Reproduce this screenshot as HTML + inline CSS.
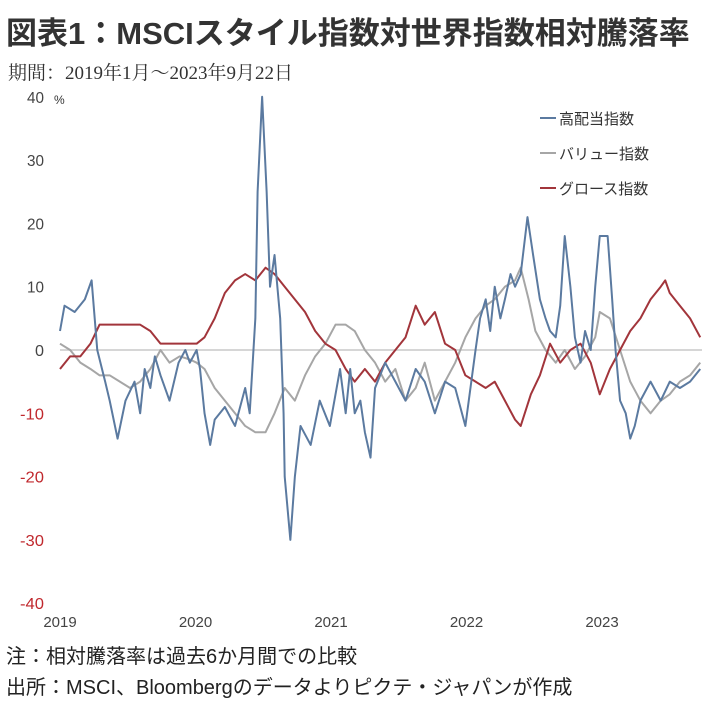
<!DOCTYPE html>
<html><head><meta charset="utf-8">
<style>
body{margin:0;background:#fff;width:711px;height:704px;overflow:hidden;font-family:"Liberation Sans","Noto Sans CJK JP",sans-serif}
.t{position:absolute;white-space:nowrap}
</style></head><body>
<div class="t" style="left:6px;top:8px;font-size:31px;font-weight:bold;color:#333;letter-spacing:0px">図表1：MSCIスタイル指数対世界指数相対騰落率</div>
<div class="t" style="left:8px;top:58px;font-size:19px;color:#333;font-family:'Liberation Serif','Noto Serif CJK SC',serif">期間：2019年1月～2023年9月22日</div>
<div class="t" style="left:6px;top:640px;font-size:20px;color:#222">注：相対騰落率は過去6か月間での比較</div>
<div class="t" style="left:6px;top:671px;font-size:20px;color:#222">出所：MSCI、Bloombergのデータよりピクテ・ジャパンが作成</div>
<svg id="c" width="711" height="704" style="position:absolute;left:0;top:0"></svg>
<script>
const yTicks=[40,30,20,10,0,-10,-20,-30,-40];
const xLabels=["2019","2020","2021","2022","2023"];
const seriesNames=["高配当指数","バリュー指数","グロース指数"];
const blueM=[0,0.4,1.3,2.2,2.8,3.3,4.0,4.4,5.1,5.8,6.6,7.1,7.5,8.0,8.4,8.9,9.7,10.5,11.1,11.5,12.1,12.4,12.8,13.3,13.7,14.6,15.5,16.4,16.8,17.3,17.5,17.9,18.3,18.6,19.0,19.5,19.8,19.9,20.4,20.8,21.3,22.2,23.0,23.9,24.8,25.3,25.7,26.1,26.6,27.0,27.5,27.9,28.8,29.7,30.6,31.5,32.3,33.2,34.1,35.0,35.9,36.8,37.2,37.7,38.1,38.5,39.0,39.4,39.9,40.3,40.8,41.4,41.9,42.5,43.0,43.4,43.9,44.3,44.7,45.2,45.6,46.1,46.5,47.0,47.4,47.8,48.5,48.9,49.2,49.6,50.1,50.5,50.9,51.4,52.3,53.2,54.0,54.9,55.8,56.7];
const blueV=[3,7,6,8,11,0,-5,-8,-14,-8,-5,-10,-3,-6,-1,-4,-8,-2,0,-2,0,-3,-10,-15,-11,-9,-12,-6,-10,5,25,40,25,10,15,5,-10,-20,-30,-20,-12,-15,-8,-12,-3,-10,-3,-10,-8,-13,-17,-6,-2,-5,-8,-3,-5,-10,-5,-6,-12,0,5,8,3,10,5,8,12,10,12,21,15,8,5,3,2,7,18,10,2,-2,3,0,10,18,18,8,0,-8,-10,-14,-12,-8,-5,-8,-5,-6,-5,-3];
const grayM=[0,0.9,1.8,2.7,3.5,4.4,5.3,6.2,7.1,8.0,8.9,9.7,10.6,11.5,12.1,12.8,13.7,14.6,15.5,16.4,17.3,18.2,19.0,19.9,20.8,21.7,22.6,23.5,24.4,25.3,26.1,27.0,27.9,28.8,29.7,30.6,31.5,32.3,33.2,34.1,35.0,35.9,36.8,37.7,38.5,39.4,40.3,40.8,41.5,42.1,43.0,43.9,44.7,45.6,46.5,47.4,47.8,48.7,49.6,50.5,51.4,52.3,53.2,54.0,54.9,55.8,56.7];
const grayV=[1,0,-2,-3,-4,-4,-5,-6,-5,-3,0,-2,-1,-1.5,-2,-3,-6,-8,-10,-12,-13,-13,-10,-6,-8,-4,-1,1,4,4,3,0,-2,-5,-3,-8,-6,-2,-8,-5,-2,2,5,7,8,10,11,13,8,3,0,-2,0,-3,-1,2,6,5,0,-5,-8,-10,-8,-7,-5,-4,-2];
const redM=[0,0.9,1.8,2.7,3.5,4.4,5.3,6.2,7.1,8.0,8.9,9.7,10.6,11.5,12.1,12.8,13.7,14.6,15.5,16.4,17.3,18.2,19.0,19.9,20.8,21.7,22.6,23.5,24.4,25.3,26.1,27.0,27.9,28.8,29.7,30.6,31.5,32.3,33.2,34.1,35.0,35.9,36.8,37.7,38.5,39.4,40.3,40.8,41.7,42.5,43.4,44.3,45.2,46.1,47.0,47.8,48.7,49.6,50.5,51.4,52.3,53.2,53.6,54.0,54.9,55.8,56.7];
const redV=[-3,-1,-1,1,4,4,4,4,4,3,1,1,1,1,1,2,5,9,11,12,11,13,12,10,8,6,3,1,0,-3,-5,-3,-5,-2,0,2,7,4,6,1,0,-4,-5,-6,-5,-8,-11,-12,-7,-4,1,-2,0,1,-2,-7,-3,0,3,5,8,10,11,9,7,5,2];
const S="http://www.w3.org/2000/svg",svg=document.getElementById('c');
const X0=60,PX_PER_M=135.5/12;
const xs=m=>X0+m*PX_PER_M, ys=v=>350-v*6.33;
function mk(t,a){const e=document.createElementNS(S,t);for(const k in a)e.setAttribute(k,a[k]);svg.appendChild(e);return e;}
yTicks.forEach(v=>{const e=mk('text',{x:44,y:ys(v)+6,'text-anchor':'end','font-size':16,fill:v<0?'#c0282d':'#444','textLength':v<0?24:(v===0?9:17),'lengthAdjust':'spacingAndGlyphs'});e.textContent=v;

});
const pc=mk('text',{x:54,y:104,'font-size':12,fill:'#333'});pc.textContent='%';


xLabels.forEach((l,i)=>{const e=mk('text',{x:xs(i*12),y:627,'text-anchor':'middle','font-size':15,fill:'#444'});e.textContent=l;

});
const zl=mk('line',{x1:60,x2:702,y1:ys(0),y2:ys(0),stroke:'#c8c8c8','stroke-width':1.5});


const cols=['#5b7aa0','#a6a6a6','#a2353b'];
[[grayM,grayV],[redM,redV],[blueM,blueV]].forEach((s,k)=>{const ci=[1,2,0][k];
const p=mk('polyline',{points:s[0].map((m,i)=>xs(m)+','+ys(s[1][i])).join(' '),fill:'none',stroke:cols[ci],'stroke-width':2,'stroke-linejoin':'round'});

});
seriesNames.forEach((n,i)=>{const y=118+i*35;
const l=mk('line',{x1:540,x2:556,y1:y,y2:y,stroke:cols[i],'stroke-width':2});


const t=mk('text',{x:559,y:y+6,'font-size':15,fill:'#333'});t.textContent=n;

});
</script>
</body></html>
